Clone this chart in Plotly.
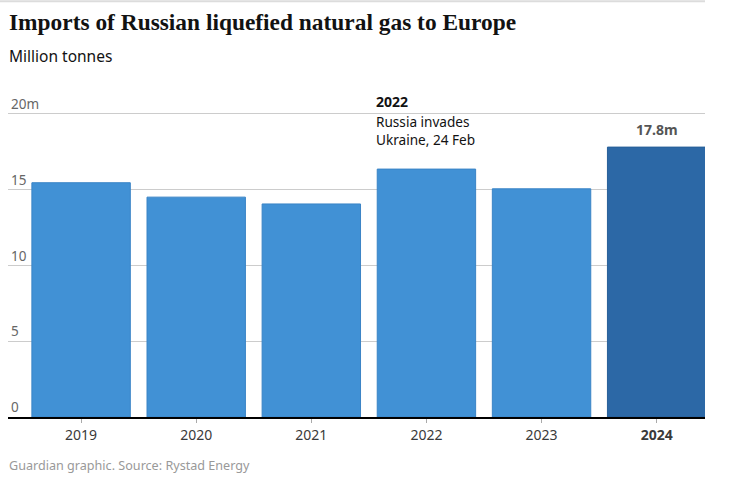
import plotly.graph_objects as go

years = ["2019", "2020", "2021", "2022", "2023", "2024"]
values = [15.45, 14.5, 14.05, 16.35, 15.05, 17.8]
tick_vals = [0, 5, 10, 15, 20]
tick_text = ["0", "5", "10", "15", "20m"]
year_labels = ["2019", "2020", "2021", "2022", "2023", "<b>2024</b>"]
colors = ["#4191d5"] * 5 + ["#2c68a6"]

W, H = 744, 488
L, R, B = 8, 39, 71
Y_MAX = 21.5
PH = 417 - 113.5  # pixels for 20 units
T = 417 - PH * Y_MAX / 20
PW = W - L - R
PH_TOT = H - T - B


def px_x(px):
    return (px - L) / PW


def px_y(py):
    return 1 - (py - T) / PH_TOT


fig = go.Figure()
fig.add_trace(go.Bar(
    x=years, y=values,
    marker=dict(color=colors, line=dict(color=["#3a84c6"] * 5 + ["#275f98"], width=1)),
    width=0.855,
    hoverinfo="skip",
))

fig.update_layout(
    width=W, height=H,
    margin=dict(l=L, r=R, t=T, b=B),
    paper_bgcolor="white", plot_bgcolor="white",
    showlegend=False,
    font=dict(family="Noto Sans", color="#333333"),
    xaxis=dict(
        type="category",
        range=[-0.635, 5.42],
        tickvals=years, ticktext=year_labels,
        tickfont=dict(size=14, color="#3a3a3a", family="Noto Sans"),
        showgrid=False, showline=True, linecolor="#000000", linewidth=1.5,
        ticks="outside", ticklen=4, tickcolor="#aaaaaa", tickwidth=1,
        zeroline=False, fixedrange=True,
    ),
    yaxis=dict(
        range=[0, Y_MAX],
        tickvals=tick_vals, ticktext=tick_text,
        ticklabelposition="inside top",
        tickfont=dict(size=13.5, color="#666666", family="Noto Sans"),
        showgrid=True, gridcolor="#cccccc", gridwidth=1,
        zeroline=False, showline=False, ticks="",
        fixedrange=True,
    ),
)

# Top rule
fig.add_shape(type="line", xref="paper", yref="paper",
              x0=px_x(0), x1=px_x(705), y0=px_y(1), y1=px_y(1),
              line=dict(color="#dcdcdc", width=2))

# Title & subtitle
fig.add_annotation(xref="paper", yref="paper", x=px_x(7), y=px_y(22),
                   xanchor="left", yanchor="middle",
                   text="<b>Imports of Russian liquefied natural gas to Europe</b>",
                   showarrow=False, font=dict(family="Liberation Serif", size=23.4, color="#121212"))
fig.add_annotation(xref="paper", yref="paper", x=px_x(7), y=px_y(56),
                   xanchor="left", yanchor="middle",
                   text="Million tonnes",
                   showarrow=False, font=dict(family="Noto Sans", size=15.5, color="#121212"))

# Event annotation
i22 = years.index("2022")
fig.add_annotation(x=i22, y=20, xref="x", yref="y", xshift=-52, yshift=1,
                   xanchor="left", yanchor="bottom", align="left",
                   text="<b>2022</b>", showarrow=False,
                   font=dict(family="Noto Sans", size=14, color="#121212"))
fig.add_annotation(x=i22, y=20, xref="x", yref="y", xshift=-52, yshift=4,
                   xanchor="left", yanchor="top", align="left",
                   text="Russia invades<br>Ukraine, 24 Feb", showarrow=False,
                   font=dict(family="Noto Sans", size=13.6, color="#121212"))

# Value label
i24 = years.index("2024")
fig.add_annotation(x=i24, y=values[i24], xref="x", yref="y", yshift=6,
                   xanchor="center", yanchor="bottom",
                   text="<b>%.1fm</b>" % values[i24], showarrow=False,
                   font=dict(family="Noto Sans", size=14, color="#555555"))

# Source
fig.add_annotation(xref="paper", yref="paper", x=px_x(7), y=px_y(466),
                   xanchor="left", yanchor="middle",
                   text="Guardian graphic. Source: Rystad Energy", showarrow=False,
                   font=dict(family="Noto Sans", size=12.6, color="#999999"))

fig.write_html("out.html", config={"displayModeBar": False},
               post_script="document.body.style.margin='0';")
